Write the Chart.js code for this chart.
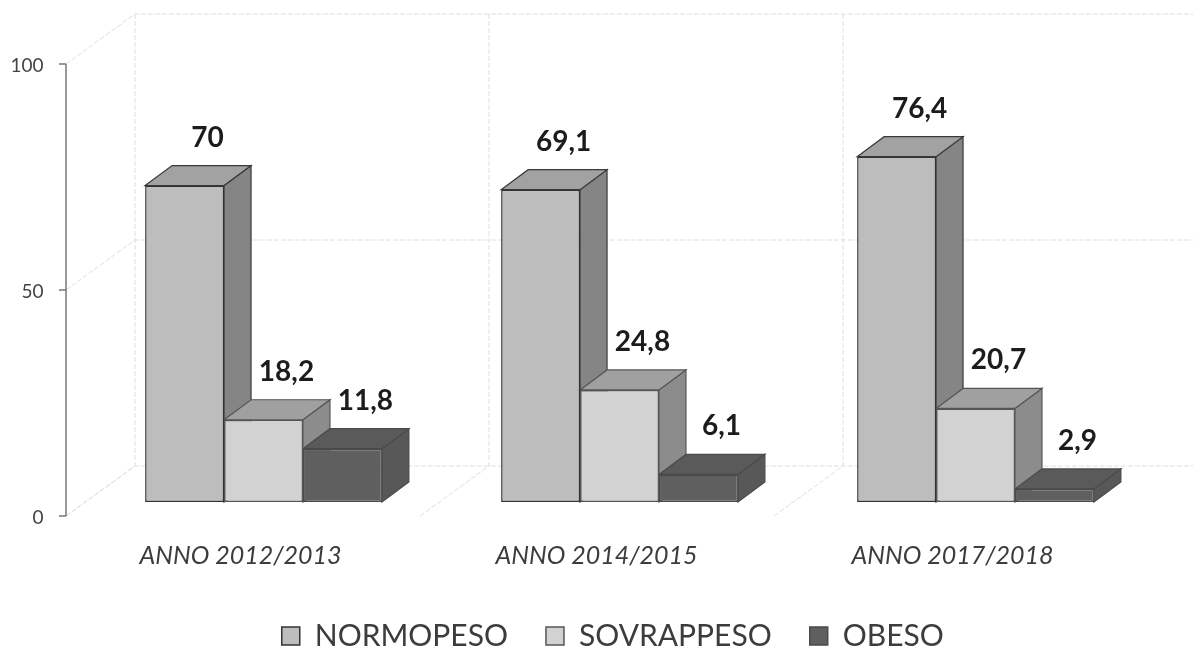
<!DOCTYPE html>
<html>
<head>
<meta charset="utf-8">
<title>Normopeso, sovrappeso, obeso</title>
<script src="https://cdn.jsdelivr.net/npm/chart.js@4"></script>
<style>
  html, body { margin: 0; background: #fff; }
  canvas { display: block; }
</style>
</head>
<body>
<canvas id="chart" width="1193" height="648"></canvas>
<script>
const categories = ["ANNO 2012/2013", "ANNO 2014/2015", "ANNO 2017/2018"];
const normopeso = [70, 69.1, 76.4];
const sovrappeso = [18.2, 24.8, 20.7];
const obeso = [11.8, 6.1, 2.9];
const yTicks = [0, 50, 100];

// bars sit forward of the axis plane, depth goes up and to the right
const FRONT_SHIFT = -14;
const DEPTH_X = 27, DEPTH_Y = -20;
const WALL_X = 69, WALL_Y = -50;
const WALL_STEP = 354;

function poly(ctx, pts, fill) {
  ctx.beginPath();
  pts.forEach((p, i) => i ? ctx.lineTo(p[0], p[1]) : ctx.moveTo(p[0], p[1]));
  ctx.closePath();
  ctx.fillStyle = fill;
  ctx.fill();
  ctx.stroke();
}

const scene3d = {
  id: "scene3d",
  afterLayout(chart) {
    chart.legend.left += 36;
    chart.legend.right += 36;
    chart.legend.top -= 25;
  },
  beforeDatasetsDraw(chart) {
    const { ctx, scales: { x, y } } = chart;
    const axisX = x.left - 19.5;
    const wallLeft = axisX + WALL_X;
    ctx.save();

    // back wall and floor, very faint
    ctx.strokeStyle = "#dedede";
    ctx.lineWidth = 1;
    ctx.setLineDash([5, 2]);
    yTicks.forEach(v => {
      const py = y.getPixelForValue(v);
      ctx.beginPath();
      ctx.moveTo(axisX, py);
      ctx.lineTo(wallLeft, py + WALL_Y);
      ctx.lineTo(1193, py + WALL_Y);
      ctx.stroke();
    });
    categories.forEach((c, i) => {
      const wx = wallLeft + i * WALL_STEP;
      ctx.beginPath();
      ctx.moveTo(wx, y.getPixelForValue(100) + WALL_Y);
      ctx.lineTo(wx, y.getPixelForValue(0) + WALL_Y);
      ctx.lineTo(wx - WALL_X, y.getPixelForValue(0));
      ctx.stroke();
    });
    ctx.setLineDash([]);

    // value axis
    ctx.strokeStyle = "#777";
    ctx.lineWidth = 1.5;
    ctx.beginPath();
    ctx.moveTo(axisX, y.getPixelForValue(100));
    ctx.lineTo(axisX, y.getPixelForValue(0));
    ctx.stroke();
    yTicks.forEach(v => {
      const py = y.getPixelForValue(v);
      ctx.beginPath();
      ctx.moveTo(axisX - 7, py);
      ctx.lineTo(axisX, py);
      ctx.stroke();
    });
    ctx.restore();

    ctx.save();
    ctx.translate(0, FRONT_SHIFT);

    // top and side faces go under all the fronts, left to right
    ctx.save();
    ctx.lineWidth = 1.2;
    chart.data.datasets.forEach((ds, d) => {
      ctx.strokeStyle = ds.edge;
      chart.getDatasetMeta(d).data.forEach(bar => {
        const r = bar.x + bar.width / 2, l = bar.x - bar.width / 2;
        poly(ctx, [[r, bar.y], [r + DEPTH_X, bar.y + DEPTH_Y], [r + DEPTH_X, bar.base + DEPTH_Y], [r, bar.base]], ds.sideColor);
        poly(ctx, [[l, bar.y], [l + DEPTH_X, bar.y + DEPTH_Y], [r + DEPTH_X, bar.y + DEPTH_Y], [r, bar.y]], ds.topColor);
      });
    });
    ctx.restore();
  },
  afterDatasetsDraw(chart) {
    const { ctx } = chart;
    // value labels over the block tops
    ctx.fillStyle = "#1c1c1c";
    ctx.font = "bold 28px Lato";
    ctx.textAlign = "center";
    ctx.textBaseline = "middle";
    chart.data.datasets.forEach((ds, d) => {
      chart.getDatasetMeta(d).data.forEach((bar, i) => {
        ctx.fillText(String(ds.data[i]).replace(".", ","), bar.x + 23, bar.y - 48);
      });
    });
    ctx.restore();
  }
};

new Chart(document.getElementById("chart"), {
  type: "bar",
  data: {
    labels: categories,
    datasets: [
      { label: "NORMOPESO", data: normopeso, backgroundColor: "#bdbdbd", topColor: "#a2a2a2", sideColor: "#858585", borderColor: "#333", edge: "#3a3a3a" },
      { label: "SOVRAPPESO", data: sovrappeso, backgroundColor: "#d2d2d2", topColor: "#a0a0a0", sideColor: "#8c8c8c", borderColor: "#555", edge: "#555" },
      { label: "OBESO", data: obeso, backgroundColor: "#5f5f5f", topColor: "#5a5a5a", sideColor: "#585858", borderColor: "#4a4a4a", edge: "#4a4a4a" }
    ].map(d => ({ ...d, borderWidth: 1.5, borderSkipped: false, clip: false, barPercentage: 1, categoryPercentage: 0.665 }))
  },
  options: {
    responsive: false,
    animation: false,
    layout: { padding: { top: 64, right: 39.5, left: 0, bottom: 0 } },
    scales: {
      x: {
        grid: { display: false, drawTicks: false },
        border: { display: false },
        afterFit(scale) { scale.height = 92; },
        ticks: {
          maxRotation: 0,
          padding: 25,
          labelOffset: -23,
          color: "#3c3c3c",
          font: { family: "Lato", size: 25, style: "italic" }
        }
      },
      y: {
        min: 0,
        max: 100,
        afterFit(scale) { scale.width = 85.5; },
        afterBuildTicks(scale) { scale.ticks = yTicks.map(value => ({ value })); },
        grid: { display: false, drawTicks: false },
        border: { display: false },
        ticks: {
          padding: 42,
          labelOffset: 2,
          color: "#444",
          font: { family: "Lato", size: 19 }
        }
      }
    },
    plugins: {
      tooltip: { enabled: false },
      legend: {
        position: "bottom",
        maxHeight: 40,
        labels: {
          boxWidth: 18,
          boxHeight: 18,
          padding: 38,
          color: "#3c3c3c",
          font: { family: "Lato", size: 30 }
        }
      }
    }
  },
  plugins: [scene3d]
});
</script>
</body>
</html>
